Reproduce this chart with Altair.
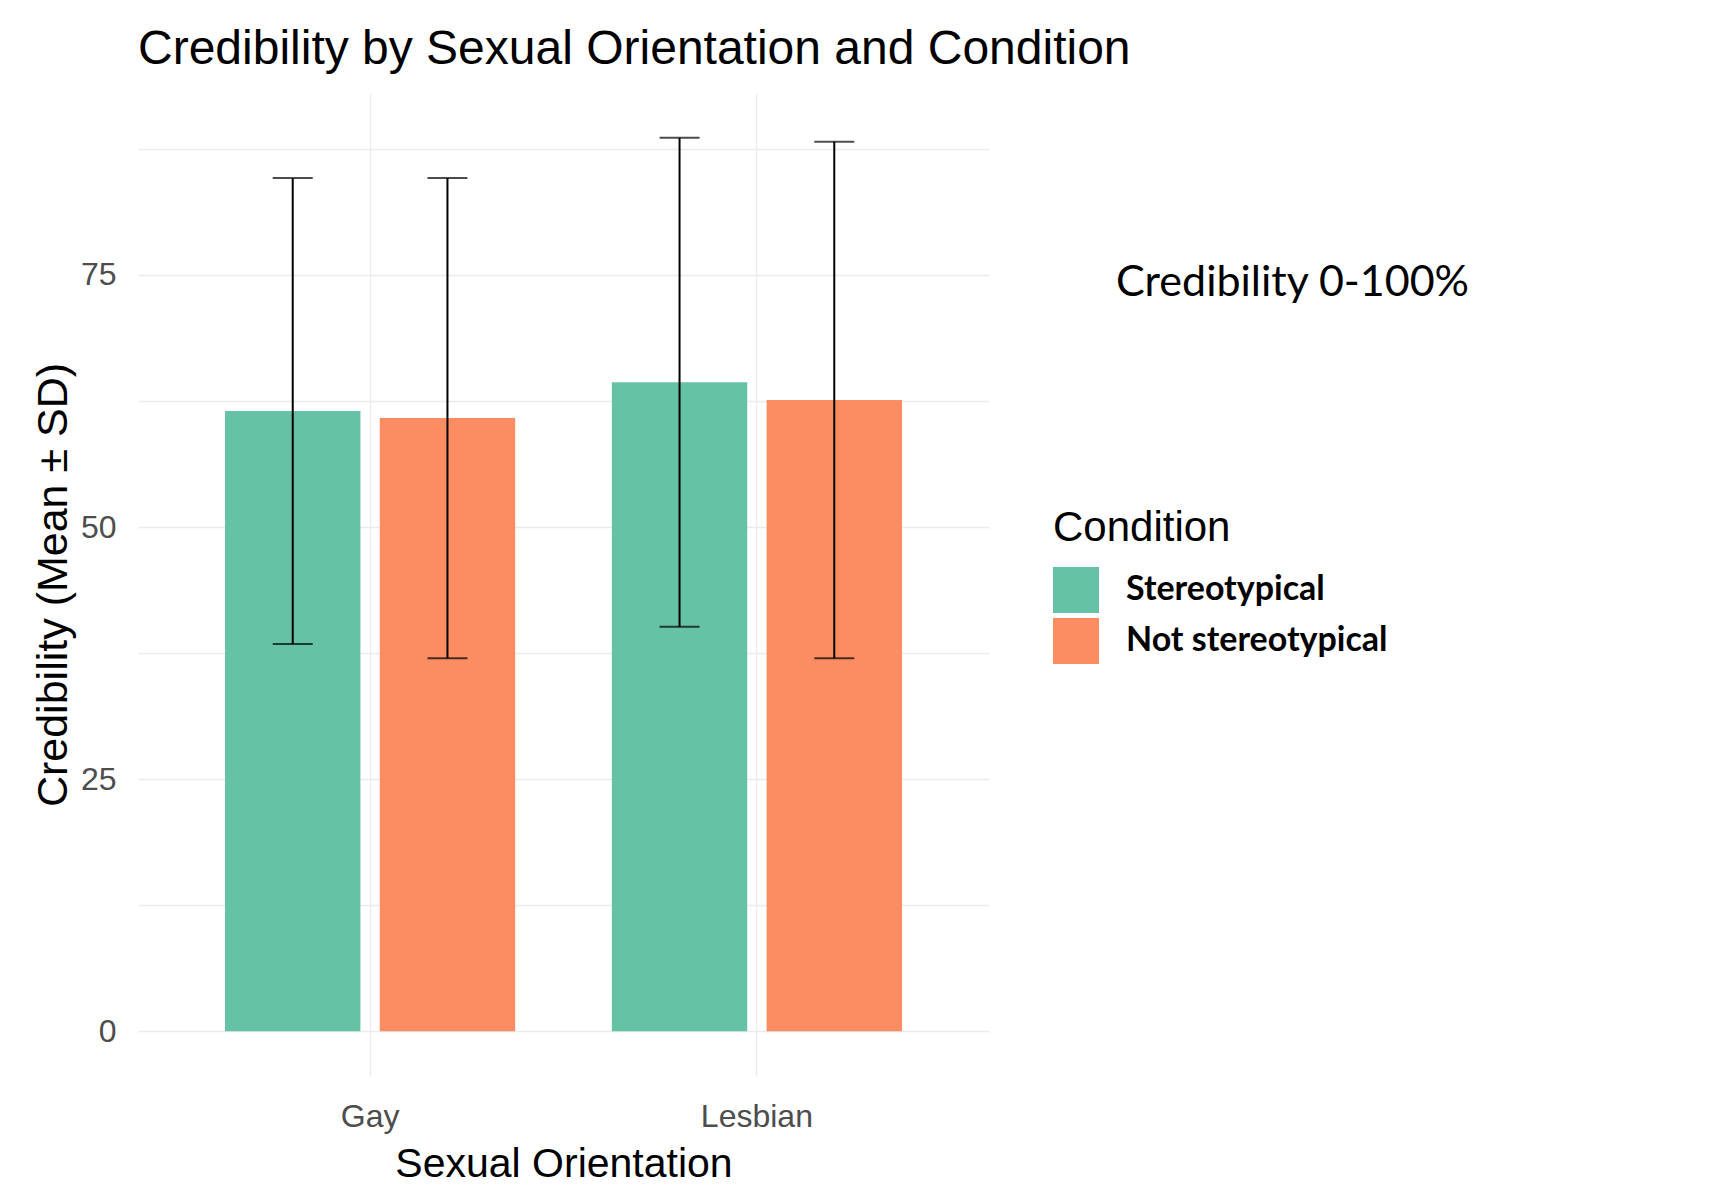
import altair as alt
import pandas as pd

orientation = ["Gay", "Gay", "Lesbian", "Lesbian"]
condition = ["Stereotypical", "Not stereotypical", "Stereotypical", "Not stereotypical"]
mean_cred = [61.5, 60.8, 64.35, 62.6]
sd_cred = [23.1, 23.8, 24.25, 25.6]

cond_order = ["Stereotypical", "Not stereotypical"]
cond_colors = ["#66C2A5", "#FC8D62"]
y_grid_values = [0, 12.5, 25, 37.5, 50, 62.5, 75, 87.5]

df = pd.DataFrame({
    "Orientation": orientation,
    "Condition": condition,
    "Mean": mean_cred,
    "SD": sd_cred,
})

ARIAL = "Liberation Sans, Arial, sans-serif"
CALIBRI = "Lato, Carlito, Calibri, sans-serif"

W, H = 851, 983

x_enc = alt.X(
    "Orientation:N",
    scale=alt.Scale(paddingInner=0.2, paddingOuter=0.2),
    axis=alt.Axis(
        title="Sexual Orientation",
        labelAngle=0,
        labelFont=ARIAL,
        labelFontSize=32,
        labelColor="#4D4D4D",
        labelBaseline="alphabetic",
        labelPadding=50,
        titleFont=ARIAL,
        titleFontSize=41,
        titleFontWeight="normal",
        titleColor="#000000",
        titleBaseline="alphabetic",
        titleY=100,
        grid=True,
        gridColor="#EBEBEB",
        gridWidth=1.3,
        bandPosition=0.5,
        domain=False,
        ticks=False,
        tickSize=0,
    ),
)
xoff_enc = alt.XOffset(
    "Condition:N",
    scale=alt.Scale(domain=cond_order, paddingInner=0.125, paddingOuter=0.0625),
)
y_scale = alt.Scale(domain=[-4.43, 93.03], nice=False, zero=False)

bars = alt.Chart(df).mark_bar().encode(
    x=x_enc,
    xOffset=xoff_enc,
    y=alt.Y(
        "Mean:Q",
        scale=y_scale,
        axis=alt.Axis(
            title="Credibility (Mean ± SD)",
            values=y_grid_values,
            labelExpr="datum.value % 25 == 0 ? datum.label : ''",
            labelFont=ARIAL,
            labelFontSize=32,
            labelColor="#4D4D4D",
            labelPadding=22,
            titleFont=ARIAL,
            titleFontSize=43,
            titleFontWeight="normal",
            titleColor="#000000",
            titleBaseline="alphabetic",
            titleX=-72,
            titleY=H / 2,
            titleAlign="center",
            titleAngle=270,
            grid=True,
            gridColor="#EBEBEB",
            gridWidth=1.3,
            domain=False,
            ticks=False,
            tickSize=0,
        ),
    ),
    y2=alt.datum(0),
    color=alt.Color(
        "Condition:N",
        scale=alt.Scale(domain=cond_order, range=cond_colors),
        legend=alt.Legend(
            title="Condition",
            orient="none",
            legendX=915,
            legendY=415,
            padding=0,
            titleFont=ARIAL,
            titleFontSize=42,
            titleFontWeight="normal",
            titleColor="#000000",
            titlePadding=17,
            labelFont=CALIBRI,
            labelFontSize=34,
            labelFontWeight="bold",
            labelColor="#000000",
            labelOffset=27,
            labelLimit=500,
            symbolType="square",
            symbolSize=2116,
            symbolStrokeWidth=0,
            symbolOpacity=1,
            rowPadding=5,
        ),
    ),
)

base_err = alt.Chart(df).transform_calculate(
    lo="datum.Mean - datum.SD", hi="datum.Mean + datum.SD"
)

err = base_err.mark_rule(color="#000000", strokeWidth=2).encode(
    x=alt.X("Orientation:N"),
    xOffset=alt.XOffset("Condition:N"),
    y=alt.Y("lo:Q"),
    y2="hi:Q",
)
cap_hi = base_err.mark_tick(color="#000000", thickness=2, size=40, orient="horizontal").encode(
    x=alt.X("Orientation:N"),
    xOffset=alt.XOffset("Condition:N"),
    y=alt.Y("hi:Q"),
)
cap_lo = base_err.mark_tick(color="#000000", thickness=2, size=40, orient="horizontal").encode(
    x=alt.X("Orientation:N"),
    xOffset=alt.XOffset("Condition:N"),
    y=alt.Y("lo:Q"),
)

note = alt.Chart(pd.DataFrame({"t": ["Credibility 0-100%"]})).mark_text(
    align="left", baseline="alphabetic", font=CALIBRI, fontSize=43, color="#000000"
).encode(x=alt.value(978), y=alt.value(203), text="t:N")

chart = alt.layer(bars, err, cap_hi, cap_lo, note).properties(
    width=W,
    height=H,
    title=alt.TitleParams(
        text="Credibility by Sexual Orientation and Condition",
        anchor="start",
        frame="group",
        font=ARIAL,
        fontSize=48,
        fontWeight="normal",
        color="#000000",
        baseline="alphabetic",
        offset=-19,
    ),
    background="#FFFFFF",
    autosize=alt.AutoSizeParams(type="none"),
    padding={"left": 130, "top": 85, "right": 700, "bottom": 110},
).configure_view(strokeWidth=0, stroke="transparent")

chart.save("out.html", embed_options={"renderer": "svg", "actions": False})
